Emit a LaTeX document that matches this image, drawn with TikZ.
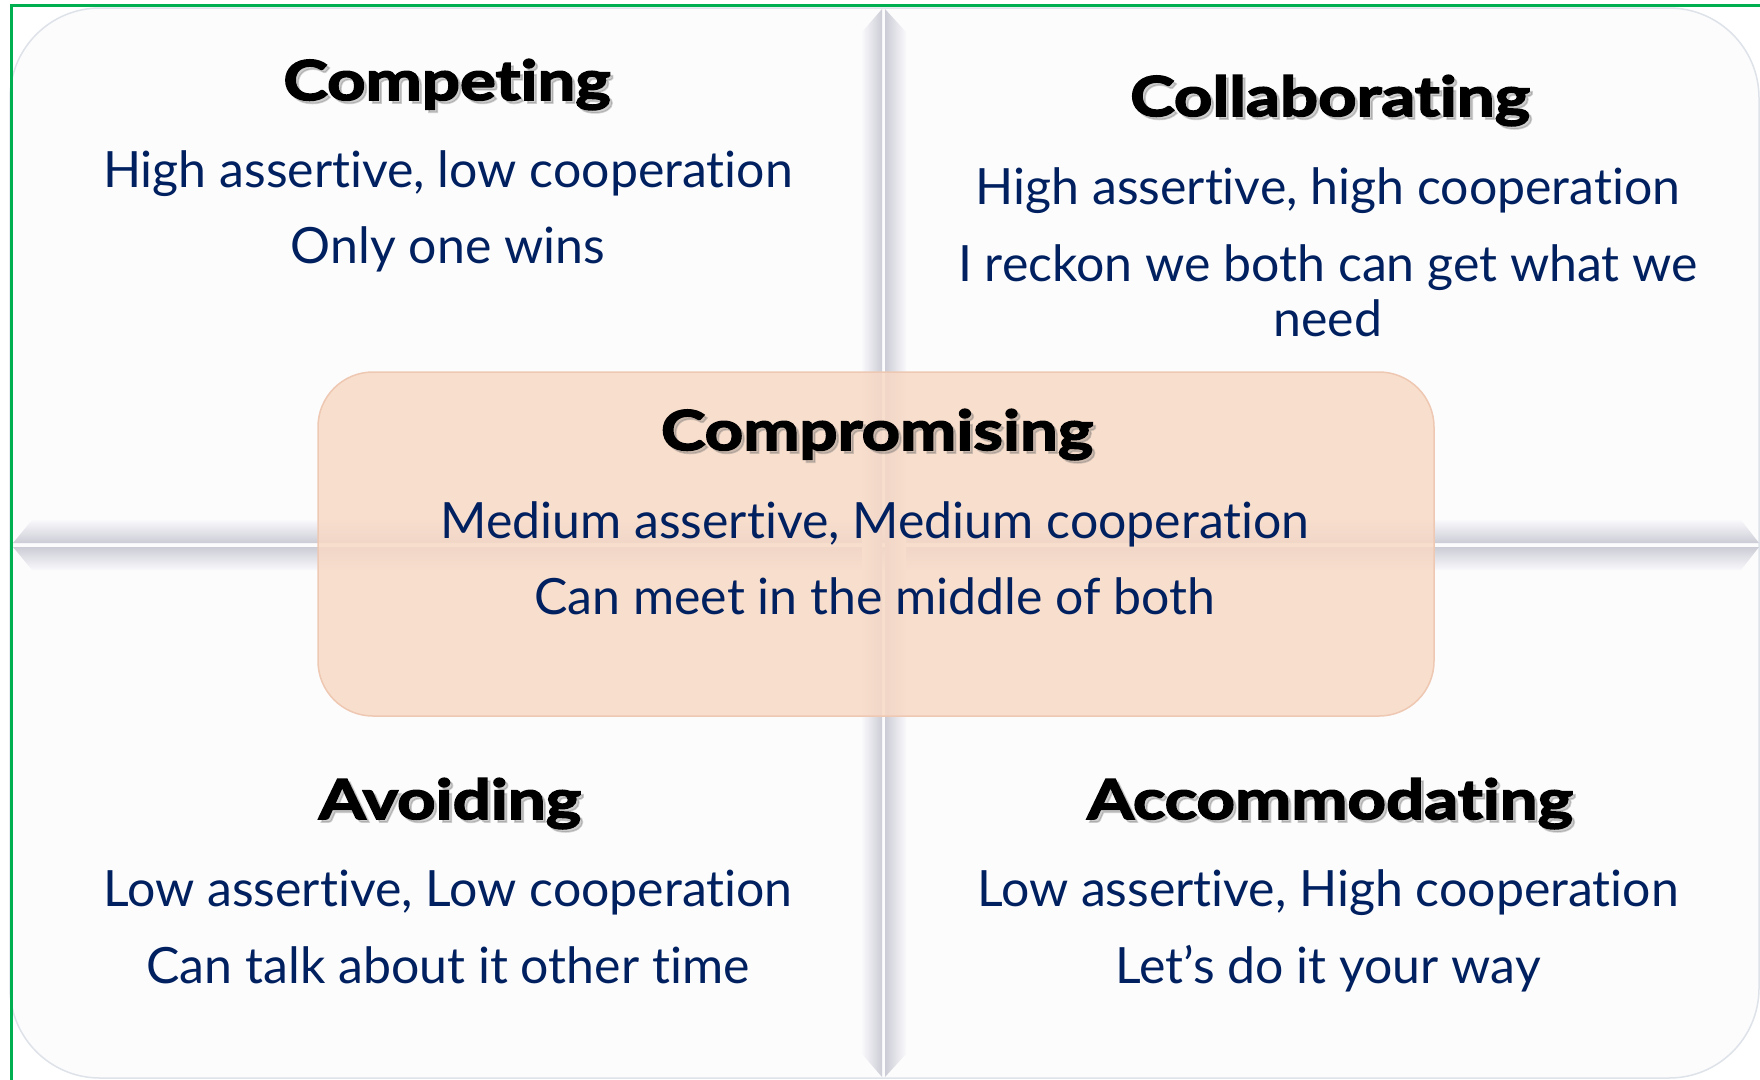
\documentclass[tikz,border=0pt]{standalone}
\usepackage{fontspec}
\setmainfont{Lato}[Ligatures=NoCommon,Contextuals=NoAlternate]
\newfontfamily\titlefont{Lato}[Ligatures=NoCommon,Contextuals=NoAlternate,FakeStretch=1.22,BoldFeatures={FakeBold=3}]
\definecolor{navy}{RGB}{0,32,96}
\definecolor{framegreen}{RGB}{0,176,80}
\definecolor{panelfill}{RGB}{252,252,253}
\definecolor{paneledge}{RGB}{222,226,233}
\definecolor{grooveLight}{RGB}{249,249,252}
\definecolor{grooveDark}{RGB}{204,204,214}
\definecolor{boxfill}{RGB}{248,217,197}
\definecolor{boxedge}{RGB}{238,200,178}
\begin{document}
\begin{tikzpicture}[x=1pt,y=-1pt,
  body/.style={text=navy,font=\fontsize{50}{60}\selectfont,anchor=base,inner sep=0pt},
  ttl/.style={text=black,font=\titlefont\bfseries\fontsize{55}{66}\selectfont,anchor=base,inner sep=0pt},
  shd/.style={ttl,text=black!60,opacity=0.3}]
\useasboundingbox (0,0) rectangle (1760,1079);
\fill[white] (0,0) rectangle (1760,1079);
% panel
\draw[paneledge,line width=1.5pt,fill=panelfill,rounded corners=90pt] (10,8) rectangle (1759,1078);
% horizontal groove
\shade[top color=grooveLight,bottom color=grooveDark] (32,520) -- (1741,520) -- (1759,543) -- (13,543) -- cycle;
\shade[top color=grooveDark,bottom color=grooveLight] (13,547) -- (1759,547) -- (1741,570) -- (32,570) -- cycle;
% vertical groove
\shade[left color=grooveLight,right color=grooveDark] (862,32) -- (882,9) -- (882,1077) -- (862,1054) -- cycle;
\shade[left color=grooveDark,right color=grooveLight] (885,9) -- (906,32) -- (906,1054) -- (885,1077) -- cycle;
% central box
\draw[boxedge,line width=1.5pt,fill=boxfill,fill opacity=0.85,rounded corners=55pt] (318,372) rectangle (1434,716);
% green frame (cropped)
\draw[framegreen,line width=3pt] (11.5,1090) -- (11.5,5.5) -- (1770,5.5);
% titles with shadows
\newcommand\mytitle[3]{%
  \node[shd,xshift=3pt,yshift=-3pt] at (#2) {#3};
  \node[ttl] (#1) at (#2) {#3};}
\mytitle{tcomp}{447,100}{Competing}
\mytitle{tcoll}{1330,116}{Collaborating}
\mytitle{tcpm}{877,450}{Compromising}
\mytitle{tavoid}{450,819}{Avoiding}
\mytitle{tacc}{1330,819}{Accommodating}
% body texts
\node[body] (c1) at (448,187) {High assertive, low cooperation};
\node[body] (c2) at (448,263) {Only one wins};
\node[body] (l1) at (1328,204) {High assertive, high cooperation};
\node[body] (l2) at (1328,281) {I reckon we both can get what we};
\node[body] (l3) at (1328,336) {need};
\node[body] (m1) at (875,538) {Medium assertive, Medium cooperation};
\node[body] (m2) at (875,614) {Can meet in the middle of both};
\node[body] (a1) at (448,906) {Low assertive, Low cooperation};
\node[body] (a2) at (448,983) {Can talk about it other time};
\node[body] (k1) at (1328,906) {Low assertive, High cooperation};
\node[body] (k2) at (1328,983) {Let’s do it your way};
\end{tikzpicture}
\end{document}
